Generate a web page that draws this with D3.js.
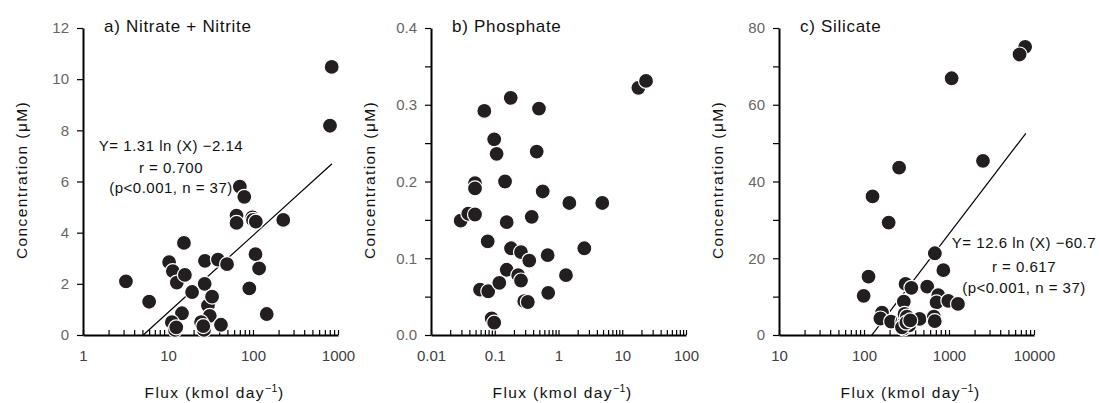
<!DOCTYPE html>
<meta charset="utf-8">
<style>
    body { margin: 0; background: #fff; }
    svg text { font-family: "Liberation Sans", Arial, sans-serif; }
</style>
<script src="https://d3js.org/d3.v7.min.js"></script>
<body>
<div id="chart"></div>
<script>

    // a) nitrate + nitrite
    var naFlux = [3.2, 6, 10.3, 11.4, 12.7, 15.4, 15.8, 19.2, 14.6, 11.1, 12.1, 12.5, 27.2, 27, 29.5, 33, 31, 24.5, 26.5, 26,
        42, 38.7, 49.5, 64, 64, 70, 79, 98, 100, 108, 227, 107, 118, 90.5, 145, 843, 805];
    var naConc = [2.1, 1.3, 2.85, 2.5, 2.05, 3.6, 2.35, 1.68, 0.85, 0.5, 0.2, 0.3, 2.9, 2.0, 1.15, 1.5, 0.75, 0.5, 0.2, 0.35,
        0.4, 2.95, 2.77, 4.67, 4.38, 5.8, 5.4, 4.6, 4.5, 4.43, 4.5, 3.16, 2.6, 1.82, 0.82, 10.48, 8.18];

    // b) phosphate
    var poFlux = [0.0686, 0.178, 0.494, 0.098, 0.107, 0.455, 0.049, 0.049, 0.145, 0.565, 17.9, 23.6,
        1.48, 4.86, 0.0292, 0.0385, 0.049, 0.154, 0.38, 0.0775, 0.18, 0.258, 0.348, 0.676, 2.54,
        0.154, 0.233, 0.258, 1.31, 0.0588, 0.079, 0.118, 0.69, 0.29, 0.33, 0.0895, 0.098];
    var poConc = [0.292, 0.309, 0.295, 0.255, 0.236, 0.239, 0.198, 0.191, 0.200, 0.187, 0.322, 0.331,
        0.172, 0.172, 0.149, 0.158, 0.157, 0.147, 0.154, 0.122, 0.113, 0.108, 0.097, 0.104, 0.113,
        0.085, 0.078, 0.071, 0.078, 0.059, 0.057, 0.068, 0.055, 0.044, 0.043, 0.0216, 0.016];

    // c) silicate
    var siFlux = [7870, 6760, 1074, 2510, 259, 126, 195, 113, 99, 682, 858, 308, 361, 554, 748, 714, 981, 1275, 294,
        163, 156, 208, 294, 283, 300, 308, 330, 294, 450, 664, 680, 300, 320, 340, 280, 315, 350];
    var siConc = [75.1, 73.1, 66.9, 45.4, 43.6, 36.1, 29.3, 15.2, 10.2, 21.3, 16.9, 13.3, 12.3, 12.6, 10.4, 8.5, 8.9, 8.1, 8.7,
        5.8, 4.3, 3.5, 4.3, 3.6, 3.6, 2.9, 2.3, 1.7, 4.2, 4.8, 3.6, 5.5, 4.8, 2.5, 2.0, 3.2, 3.8];

    // log fits  Y = a ln(X) + b, drawn between these flux values
    var naFit = {a: 1.31, b: -2.14, from: 5.12, to: 850};
    var siFit = {a: 12.6, b: -60.7, from: 123.6, to: 8020};

    var panels = [
        {title: "a) Nitrate + Nitrite", x: naFlux, y: naConc, left: 83, xDom: [1, 1000], yDom: [0, 12],
            yTicks: [0, 2, 4, 6, 8, 10, 12], yLabels: [0, 2, 4, 6, 8, 10, 12], yFmt: d3.format("d"), fit: naFit,
            eq: ["Y= 1.31 ln (X) \u22122.14", "r = 0.700", "(p<0.001, n = 37)"], eqX: 171, eqY: [151, 173, 193]},
        {title: "b) Phosphate", x: poFlux, y: poConc, left: 431, xDom: [0.01, 100], yDom: [0, 0.4],
            yTicks: d3.range(0, 0.41, 0.05), yLabels: [0, 0.1, 0.2, 0.3, 0.4], yFmt: d3.format(".1f"), fit: null},
        {title: "c) Silicate", x: siFlux, y: siConc, left: 779, xDom: [10, 10000], yDom: [0, 80],
            yTicks: d3.range(0, 81, 10), yLabels: [0, 20, 40, 60, 80], yFmt: d3.format("d"), fit: siFit,
            eq: ["Y= 12.6 ln (X) \u221260.7", "r = 0.617", "(p<0.001, n = 37)"], eqX: 1024, eqY: [248, 272, 293]}
    ];

    var plotTop = 28, plotBottom = 335, plotW = 255;

    var svg = d3.select("#chart")
        .append("svg")
        .attr("width", 1100)
        .attr("height", 403);

    panels.forEach(function (p) {
        var x = d3.scaleLog().domain(p.xDom).range([p.left, p.left + plotW]);
        var y = d3.scaleLinear().domain(p.yDom).range([plotBottom, plotTop]);
        var g = svg.append("g");

        // x ticks: every 1..9 of each decade, labels on decades only
        var xt = [];
        for (var e = Math.log10(p.xDom[0]); e < Math.log10(p.xDom[1]) - 0.5; e++) {
            for (var m = 1; m < 10; m++) xt.push(+(m * Math.pow(10, e)).toPrecision(3));
        }
        xt.push(p.xDom[1]);

        var xAxis = g.append("g")
            .attr("transform", "translate(0," + plotBottom + ")")
            .call(d3.axisBottom(x)
                .tickValues(xt)
                .tickSizeInner(-5)
                .tickSizeOuter(0)
                .tickPadding(15)
                .tickFormat(function (d) {
                    var l = Math.log10(d);
                    return Math.abs(l - Math.round(l)) < 1e-6 ? String(d) : "";
                }));
        xAxis.selectAll("text").style("font-size", "15px").attr("fill", "#404040");

        var yAxis = g.append("g")
            .attr("transform", "translate(" + p.left + ",0)")
            .call(d3.axisLeft(y)
                .tickValues(p.yTicks)
                .tickSizeInner(6)
                .tickSizeOuter(0)
                .tickPadding(8)
                .tickFormat(function (d) {
                    var hit = p.yLabels.some(function (v) { return Math.abs(v - d) < 1e-9; });
                    return hit ? p.yFmt(d) : "";
                }));
        yAxis.selectAll("text").style("font-size", "15px").attr("fill", "#666");

        g.selectAll(".domain").attr("stroke", "#000").attr("stroke-width", 2);
        g.selectAll(".tick line").attr("stroke", "#000").attr("stroke-width", 1.2);

        // fit line
        if (p.fit) {
            var f = p.fit;
            g.append("line")
                .attr("x1", x(f.from)).attr("y1", y(f.a * Math.log(f.from) + f.b))
                .attr("x2", x(f.to)).attr("y2", y(f.a * Math.log(f.to) + f.b))
                .attr("stroke", "#000")
                .attr("stroke-width", 1.2);
        }

        // points
        g.append("g")
            .selectAll("circle")
            .data(d3.range(p.x.length))
            .enter()
            .append("circle")
            .attr("cx", function (i) { return x(p.x[i]); })
            .attr("cy", function (i) { return y(p.y[i]); })
            .attr("r", 7.5)
            .attr("fill", "#231f20")
            .attr("stroke", "#fff")
            .attr("stroke-width", 1.2);

        // title
        g.append("text")
            .attr("x", p.left + 21)
            .attr("y", 32)
            .style("font-size", "17px")
            .style("letter-spacing", "0.7px")
            .attr("fill", "#111")
            .text(p.title);

        // equation
        if (p.eq) {
            p.eq.forEach(function (s, k) {
                g.append("text")
                    .attr("x", p.eqX)
                    .attr("y", p.eqY[k])
                    .attr("text-anchor", "middle")
                    .style("font-size", "15px")
                    .style("letter-spacing", "0.5px")
                    .attr("fill", "#111")
                    .text(s);
            });
        }

        // axis titles
        var xl = g.append("text")
            .attr("x", p.left + plotW / 2 + 4)
            .attr("y", 398)
            .attr("text-anchor", "middle")
            .style("font-size", "15.5px")
            .style("letter-spacing", "1.4px")
            .attr("fill", "#111");
        xl.append("tspan").text("Flux (kmol day");
        xl.append("tspan").attr("dy", -6).style("font-size", "10.5px").style("letter-spacing", "0.5px").text("\u22121");
        xl.append("tspan").attr("dy", 6).text(")");

        g.append("text")
            .attr("transform", "translate(" + (p.left - 56) + "," + 180 + ") rotate(-90)")
            .attr("text-anchor", "middle")
            .style("font-size", "15.5px")
            .style("letter-spacing", "1.4px")
            .attr("fill", "#111")
            .text("Concentration (\u03bcM)");
    });

</script>
</body>
